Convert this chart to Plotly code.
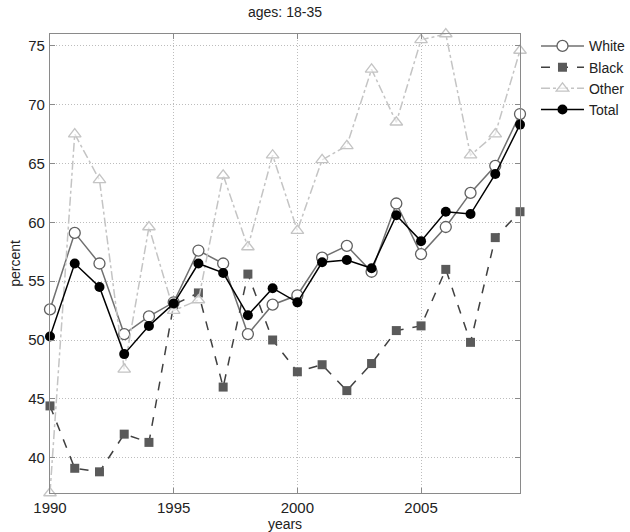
import plotly.graph_objects as go

years = list(range(1990, 2010))
white = [52.6, 59.1, 56.5, 50.5, 52.0, 53.2, 57.6, 56.5, 50.5, 53.0,
         53.8, 57.0, 58.0, 55.8, 61.6, 57.3, 59.6, 62.5, 64.8, 69.2]
black = [44.4, 39.1, 38.8, 42.0, 41.3, 53.0, 54.0, 46.0, 55.6, 50.0,
         47.3, 47.9, 45.7, 48.0, 50.8, 51.2, 56.0, 49.8, 58.7, 60.9]
other = [37.0, 67.5, 63.6, 47.5, 59.6, 52.5, 53.4, 64.0, 57.9, 65.7,
         59.3, 65.3, 66.5, 73.0, 68.5, 75.5, 76.0, 65.7, 67.5, 74.6]
total = [50.3, 56.5, 54.5, 48.8, 51.2, 53.1, 56.5, 55.7, 52.1, 54.4,
         53.2, 56.6, 56.8, 56.1, 60.6, 58.4, 60.9, 60.7, 64.1, 68.3]

x_ticks = [1990, 1995, 2000, 2005]
y_ticks = [40, 45, 50, 55, 60, 65, 70, 75]

fig = go.Figure()
fig.add_trace(go.Scatter(
    x=years, y=white, name="White", mode="lines+markers",
    line=dict(color="#707070", width=1.5),
    marker=dict(symbol="circle", size=11, color="white",
                line=dict(width=1.3, color="#606060")),
    cliponaxis=False))
fig.add_trace(go.Scatter(
    x=years, y=black, name="Black", mode="lines+markers",
    line=dict(color="#404040", width=1.5, dash="dash"),
    marker=dict(symbol="square", size=9, color="#5a5a5a"),
    cliponaxis=False))
fig.add_trace(go.Scatter(
    x=years, y=other, name="Other", mode="lines+markers",
    line=dict(color="#c4c4c4", width=1.5, dash="dashdot"),
    marker=dict(symbol="triangle-up", size=11, color="rgba(255,255,255,0.6)",
                line=dict(width=1.3, color="#c4c4c4")),
    cliponaxis=False))
fig.add_trace(go.Scatter(
    x=years, y=total, name="Total", mode="lines+markers",
    line=dict(color="#000000", width=1.5),
    marker=dict(symbol="circle", size=10, color="#000000"),
    cliponaxis=False))

axis_common = dict(
    showline=True, linecolor="#8a8a8a", linewidth=1.3, mirror="ticks",
    ticks="inside", ticklen=5, tickcolor="#8a8a8a",
    showgrid=True, gridcolor="#bdbdbd", griddash="1px,2px", gridwidth=1,
    zeroline=False, tickfont=dict(size=15, color="#222"),
)

fig.update_layout(
    width=630, height=532,
    margin=dict(l=50, r=110, t=34, b=39, autoexpand=False),
    paper_bgcolor="white", plot_bgcolor="white",
    font=dict(family="Liberation Sans, Arial, sans-serif", color="#222"),
    title=dict(text="ages: 18-35", x=0.5, xanchor="center", xref="paper",
               y=0.978, yanchor="middle", font=dict(size=14)),
    xaxis=dict(range=[1990, 2009], tickvals=x_ticks, ticklabelstandoff=1,
               title=dict(text="years", font=dict(size=14), standoff=1), **axis_common),
    yaxis=dict(range=[37, 76], tickvals=y_ticks, ticklabelstandoff=1,
               title=dict(text="percent", font=dict(size=14), standoff=4), **axis_common),
    legend=dict(x=1.034, y=1.008, xanchor="left", yanchor="top",
                font=dict(size=14), bgcolor="rgba(0,0,0,0)",
                tracegroupgap=0, itemwidth=43),
    showlegend=True,
)

fig.write_html("out.html")
